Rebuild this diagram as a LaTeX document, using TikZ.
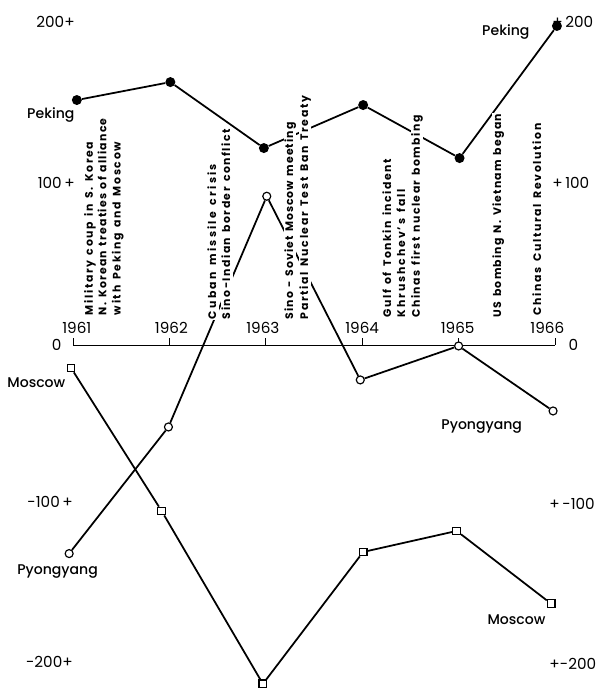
\documentclass[tikz,border=0pt]{standalone}
\usepackage{fontspec}
\setsansfont{Poppins}
\newfontfamily\namefont{Poppins Medium}
\usetikzlibrary{positioning}
% spread a line of letters over a given length
\ExplSyntaxOn
\seq_new:N \l_evwords_seq
\NewDocumentCommand \evline { m m }
  {
    \hbox_to_wd:nn {#1}
      {
        \seq_set_split:Nnn \l_evwords_seq { ~ } {#2}
        \seq_map_indexed_inline:Nn \l_evwords_seq
          {
            \int_compare:nNnT {##1} > {1} { \c_space_tl \hfil }
            \tl_map_inline:nn {##2} { ####1 \hfil }
          }
        \unskip
      }
  }
\ExplSyntaxOff
\tikzset{
  pk/.style={circle,fill,inner sep=0pt,minimum size=3mm},
  py/.style={circle,draw,fill=white,line width=1pt,inner sep=0pt,minimum size=2.4mm},
  ms/.style={rectangle,draw,fill=white,line width=1pt,inner sep=0pt,minimum size=2.3mm},
  series/.style={line width=1.5pt},
  axis/.style={line width=0.6pt},
  axlab/.style={font=\sffamily\fontsize{13}{13}\selectfont,inner sep=0pt},
  serlab/.style={font=\namefont\fontsize{12}{12}\selectfont,inner sep=0pt},
  evt/.style={rotate=90,anchor=west,fill=white,inner sep=0.5pt,text height=1.6ex,text depth=0.4ex,
    font=\sffamily\bfseries\fontsize{9.3}{9.5}\selectfont},
}

\begin{document}
\begin{tikzpicture}[x=2.892cm,y=0.04851cm]
    \useasboundingbox (-2.19cm,-10.29cm) rectangle (16.11cm,10.35cm);
    % scale on both sides
    \node[axlab,anchor=east] (l200) at (0.02,200) {200+};
    \node[axlab,anchor=east] (l100) at (0.02,100) {100\,+};
    \node[axlab] (l0) at (-0.17,0) {0};
    \node[axlab,anchor=east] (lm100) at (0,-97) {-100\,+};
    \node[axlab,anchor=east] (lm200) at (0,-196) {-200+};
    \node[axlab,anchor=west] (r200) at (4.97,200) {+\,200};
    \node[axlab,anchor=west] (r100) at (4.97,100) {+\,100};
    \node[axlab] (r0) at (5.19,0) {0};
    \node[axlab,anchor=west] (rm100) at (4.94,-98) {+\,-100};
    \node[axlab,anchor=west] (rm200) at (4.94,-197) {+-200};
    % time axis
    \draw[axis] (0,0) -- (5,0);
    \foreach \i in {0,...,5}
        \draw[axis] (\i,0) -- ++(0,0.2cm);
    \node[axlab] (y61) at (0.04,10.5) {1961};
    \node[axlab] (y62) at (1.02,10.5) {1962};
    \node[axlab] (y63) at (1.97,10.5) {1963};
    \node[axlab] (y64) at (3.00,10.5) {1964};
    \node[axlab] (y65) at (3.99,10.5) {1965};
    \node[axlab] (y66) at (4.92,10.5) {1966};
    % Peking
    \node[pk] (pk1) at (0.04,151.5) {};
    \node[pk] (pk2) at (1.01,162.6) {};
    \node[pk] (pk3) at (1.98,121.8) {};
    \node[pk] (pk4) at (3.01,148.4) {};
    \node[pk] (pk5) at (4.01,115.6) {};
    \node[pk] (pk6) at (5.02,197.3) {};
    \draw[series] (pk1) -- (pk2) -- (pk3) -- (pk4) -- (pk5) -- (pk6);
    % Pyongyang
    \node[py] (py1) at (-0.04,-129) {};
    \node[py] (py2) at (0.99,-50.7) {};
    \node[py] (py3) at (2.01,92) {};
    \node[py] (py4) at (2.98,-21.6) {};
    \node[py] (py5) at (4.00,-0.6) {};
    \node[py] (py6) at (4.98,-40.8) {};
    \draw[series] (py1) -- (py2) -- (py3) -- (py4) -- (py5) -- (py6);
    % Moscow
    \node[ms] (ms1) at (-0.02,-14.2) {};
    \node[ms] (ms2) at (0.92,-102.7) {};
    \node[ms] (ms3) at (1.97,-209.6) {};
    \node[ms] (ms4) at (3.01,-128) {};
    \node[ms] (ms5) at (3.98,-115) {};
    \node[ms] (ms6) at (4.96,-160) {};
    \draw[series] (ms1) -- (ms2) -- (ms3) -- (ms4) -- (ms5) -- (ms6);
    % names of the lines
    \node[serlab] (pkl) at (-0.23,142.2) {Peking};
    \node[serlab] (pkr) at (4.49,193.6) {Peking};
    \node[serlab] (msl) at (-0.38,-23.5) {Moscow};
    \node[serlab] (msr) at (4.60,-170) {Moscow};
    \node[serlab] (pyl) at (-0.16,-139.8) {Pyongyang};
    \node[serlab] (pyr) at (4.24,-50.7) {Pyongyang};
    % events, one node per printed line
    \node[evt] (e11) at (0.176,18) {\evline{5.2cm}{Military coup in S. Korea}};
    \node[evt] (e12) at (0.316,18) {\evline{5.9cm}{N. Korean treaties of alliance}};
    \node[evt] (e13) at (0.462,18) {\evline{5.2cm}{with Peking and Moscow}};
    \node[evt] (e21) at (1.452,15.5) {\evline{4.65cm}{Cuban missile crisis}};
    \node[evt] (e22) at (1.598,15.5) {\evline{5.7cm}{Sino-Indian border conflict}};
    \node[evt] (e31) at (2.251,15.5) {\evline{5.9cm}{Sino - Soviet Moscow meeting}};
    \node[evt] (e32) at (2.407,15.5) {\evline{6.7cm}{Partial Nuclear Test Ban Treaty}};
    \node[evt] (e41) at (3.268,16.7) {\evline{4.75cm}{Gulf of Tonkin incident}};
    \node[evt] (e42) at (3.413,16.7) {\evline{3.85cm}{Khrushchev's fall}};
    \node[evt] (e43) at (3.568,16.7) {\evline{6.05cm}{Chinas first nuclear bombing}};
    \node[evt] (e51) at (4.409,16.7) {\evline{6.1cm}{US bombing N. Vietnam began}};
    \node[evt] (e61) at (4.824,17.9) {\evline{5.75cm}{Chinas Cultural Revolution}};
\end{tikzpicture}
\end{document}
